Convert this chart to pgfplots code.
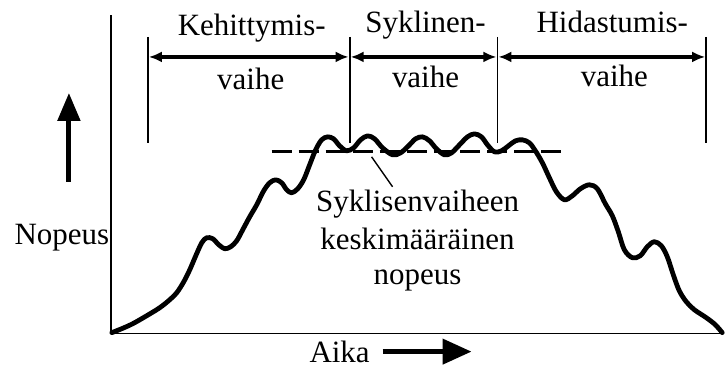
\documentclass[border=0pt]{standalone}
\usepackage{pgfplots}
\pgfplotsset{compat=1.18}
\usepackage{fontspec}
\setmainfont{Liberation Serif}
\usetikzlibrary{arrows.meta}

\begin{document}
\begin{tikzpicture}
\begin{axis}[
  x=1bp, y=1bp,
  xmin=111, xmax=725, ymin=0, ymax=319,
  axis x line=bottom, axis y line=left,
  axis line style={-, line width=1.6bp, black},
  xtick=\empty, ytick=\empty,
  clip=false,
]
% page extent
\path (axis cs:0,-36) rectangle (axis cs:725,334);

% speed over time
\addplot[black, line width=4.8bp, smooth, tension=0.55, line cap=round, line join=round]
coordinates {
(112,1) (122,5) (133,10) (147,18) (160,26) (170,34) (177,41) (184,52)
(190,64) (196,78) (202,91) (207,96) (213,95) (219,89) (225,85) (231,87)
(237,93) (243,104) (250,117) (257,129) (264,143) (270,151) (276,154)
(282,151) (287,144) (292,141) (298,145) (304,154) (310,169) (316,184)
(322,194) (328,197) (334,195) (340,188) (347,183) (354,186) (361,194)
(368,198) (375,195) (383,186) (393,179) (401,181) (409,188) (416,195)
(423,197) (430,193) (437,185) (445,179) (452,181) (460,189) (468,197)
(475,200) (482,197) (488,189) (495,182) (502,183) (509,188) (516,193)
(523,194) (530,191) (536,183) (543,171) (550,156) (557,142) (565,134)
(573,138) (581,145) (590,149) (598,145) (606,130) (613,118) (619,102)
(625,84) (633,76) (641,78) (648,87) (655,92) (662,88) (668,77) (674,59)
(680,43) (687,32) (695,24) (707,16) (716,9) (723,1)
};

% mean speed of the cyclic phase
\addplot[black, line width=2.8bp, dash pattern=on 20bp off 7bp]
coordinates {(272,182) (563,182)};

% phase boundaries
\addplot[black, line width=1.8bp] coordinates {(148,297) (148,191)};
\addplot[black, line width=1.8bp] coordinates {(350,297) (350,191)};
\addplot[black, line width=1.8bp] coordinates {(498,297) (498,191)};
\addplot[black, line width=1.8bp] coordinates {(707,297) (707,191)};

% phase spans
\addplot[black, line width=3.2bp, {Latex[length=13bp,width=11bp]}-{Latex[length=13bp,width=11bp]}]
coordinates {(149,277) (349,277)};
\addplot[black, line width=3.2bp, {Latex[length=13bp,width=11bp]}-{Latex[length=13bp,width=11bp]}]
coordinates {(351,277) (497,277)};
\addplot[black, line width=3.2bp, {Latex[length=13bp,width=11bp]}-{Latex[length=13bp,width=11bp]}]
coordinates {(499,277) (706,277)};

% leader to the mean line
\addplot[black, line width=1.4bp] coordinates {(372,177) (393,147)};

% axis direction arrows
\addplot[black, line width=5bp, -{Triangle[length=28bp,width=22bp]}]
coordinates {(69,152) (69,241)};
\addplot[black, line width=4.5bp, -{Triangle[length=29bp,width=25bp]}]
coordinates {(383,-18) (472,-18)};

\begin{scope}[every node/.style={font=\fontsize{31bp}{37bp}\selectfont, anchor=base, inner sep=0pt}]
\node at (axis cs:252,298) {Kehittymis-};
\node at (axis cs:251,244) {vaihe};
\node at (axis cs:426,301) {Syklinen-};
\node at (axis cs:426,246) {vaihe};
\node at (axis cs:613,301) {Hidastumis-};
\node at (axis cs:615,247) {vaihe};
\node at (axis cs:418,122) {Syklisenvaiheen};
\node at (axis cs:418,84) {keskimääräinen};
\node at (axis cs:418,49) {nopeus};
\node at (axis cs:62,89) {Nopeus};
\node at (axis cs:340,-29) {Aika};
\end{scope}
\end{axis}
\end{tikzpicture}
\end{document}
